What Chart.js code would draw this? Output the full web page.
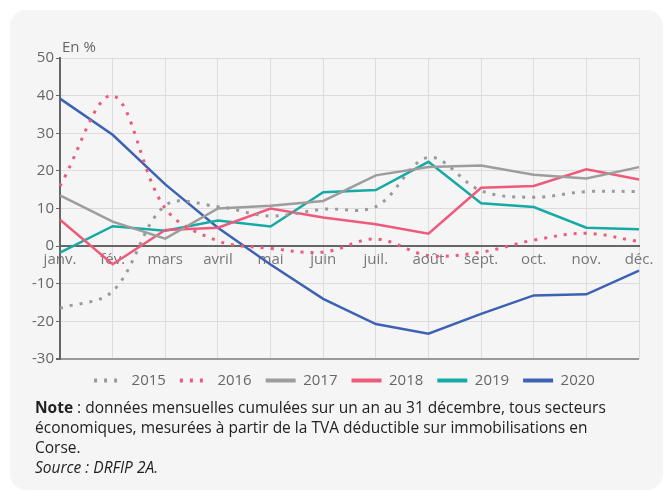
<!DOCTYPE html>
<html lang="fr">
<head>
    <meta charset="UTF-8">
    <title>TVA immobilisations Corse</title>
    <script src="https://cdn.jsdelivr.net/npm/chart.js@4.4.1/dist/chart.umd.min.js"></script>
    <style>
        body { margin: 0; background: #ffffff; font-family: "Open Sans", sans-serif; }
        .card {
            position: absolute; left: 10px; top: 10px; width: 653px; height: 480px;
            background: #f5f5f5; border-radius: 16px;
        }
        .chart-box { position: absolute; left: 0; top: 0; width: 653px; height: 388px; }
        .note {
            position: absolute; left: 25px; top: 387px; width: 600px;
            font-size: 15.5px; line-height: 20px; color: #222;
        }
    </style>
</head>
<body>
    <div class="card">
        <div class="chart-box"><canvas id="chart"></canvas></div>
        <div class="note">
            <b>Note</b> : données mensuelles cumulées sur un an au 31 décembre, tous secteurs économiques, mesurées à partir de la TVA déductible sur immobilisations en Corse.<br>
            <i>Source : DRFIP 2A.</i>
        </div>
    </div>

    <script>
        // mois
        const months = ['janv.', 'fév.', 'mars', 'avril', 'mai', 'juin', 'juil.', 'août', 'sept.', 'oct.', 'nov.', 'déc.'];
        // évolution en %
        const v2015 = [-16.5, -12, 10.8, 10.5, 8, 9.8, 10.5, 23.6, 14.7, 13, 14.5, 14.5];
        const v2016 = [16, 40, 10, 1.4, -0.6, -1.6, 1.9, -2.5, -1.6, 1.6, 3.4, 1.2];
        const v2017 = [13.5, 6.5, 2, 10, 10.7, 12, 18.8, 21, 21.4, 19, 18, 21];
        const v2018 = [7, -4.8, 4.3, 4.9, 10, 7.6, 5.8, 3.3, 15.5, 16, 20.4, 17.7];
        const v2019 = [-1.7, 5.3, 4.1, 6.8, 5.2, 14.3, 14.9, 22.4, 11.4, 10.4, 4.9, 4.5];
        const v2020 = [39.2, 29.6, 16.4, 4.9, -4.9, -14, -20.7, -23.3, -18, -13.1, -12.8, -6.5];
        const yTicks = [50, 40, 30, 20, 10, 0, -10, -20, -30];

        const titlePlugin = {
            id: 'unitTitle',
            afterLayout(chart) {
                // décale la légende pour la centrer comme sur l'original
                chart.legend.left += 20;
                chart.legend.right += 20;
            },
            afterDraw(chart) {
                const ctx = chart.ctx;
                ctx.save();
                ctx.font = '15px "Open Sans"';
                ctx.fillStyle = '#666';
                ctx.textBaseline = 'alphabetic';
                ctx.fillText('En %', chart.chartArea.left + 2, chart.chartArea.top - 6);
                ctx.restore();
            }
        };

        const ctx = document.getElementById('chart').getContext('2d');
        new Chart(ctx, {
            type: 'line',
            data: {
                labels: months,
                datasets: [
                    { label: '2015', data: v2015, borderColor: '#9a9a9a', borderWidth: 3, borderDash: [3, 7], tension: 0.35 },
                    { label: '2016', data: v2016, borderColor: '#ee5a7c', borderWidth: 3, borderDash: [3, 7], tension: 0.35 },
                    { label: '2017', data: v2017, borderColor: '#9d9d9d', borderWidth: 2.5, tension: 0 },
                    { label: '2018', data: v2018, borderColor: '#ee5a7c', borderWidth: 2.5, tension: 0 },
                    { label: '2019', data: v2019, borderColor: '#16aaa5', borderWidth: 2.5, tension: 0 },
                    { label: '2020', data: v2020, borderColor: '#3d62b4', borderWidth: 2.5, tension: 0 }
                ]
            },
            options: {
                responsive: true,
                maintainAspectRatio: false,
                animation: false,
                elements: { point: { radius: 0 } },
                layout: { padding: { left: 0, right: 24, top: 48, bottom: 0 } },
                scales: {
                    x: {
                        position: { y: 0 },
                        offset: false,
                        grid: { color: '#dcdcdc', lineWidth: 1, drawTicks: false },
                        border: { color: '#666', width: 2 },
                        ticks: { color: '#777', font: { size: 15, family: 'Open Sans' }, padding: 5, maxRotation: 0, autoSkip: false }
                    },
                    y: {
                        min: -30,
                        max: 50,
                        afterFit(scale) { scale.width = 50; },
                        afterBuildTicks(scale) { scale.ticks = yTicks.map(v => ({ value: v })); },
                        grid: {
                            color: c => c.tick && c.tick.value === -30 ? '#999' : '#dcdcdc',
                            lineWidth: c => c.tick && c.tick.value === -30 ? 2 : 1,
                            tickColor: '#666',
                            tickLength: 4
                        },
                        border: { color: '#666', width: 2 },
                        ticks: { color: '#666', font: { size: 15, family: 'Open Sans' }, padding: 2 }
                    }
                },
                plugins: {
                    legend: {
                        position: 'bottom',
                        labels: {
                            usePointStyle: true,
                            pointStyleWidth: 30,
                            padding: 14,
                            color: '#666',
                            font: { size: 15, family: 'Open Sans' },
                            generateLabels(chart) {
                                return chart.data.datasets.map((ds, i) => ({
                                    text: ds.label,
                                    datasetIndex: i,
                                    pointStyle: 'line',
                                    strokeStyle: ds.borderColor,
                                    fillStyle: ds.borderColor,
                                    lineWidth: 4,
                                    lineDash: ds.borderDash || [],
                                    fontColor: '#666',
                                    hidden: false
                                }));
                            }
                        }
                    },
                    tooltip: { enabled: false }
                }
            },
            plugins: [titlePlugin]
        });
    </script>
</body>
</html>
